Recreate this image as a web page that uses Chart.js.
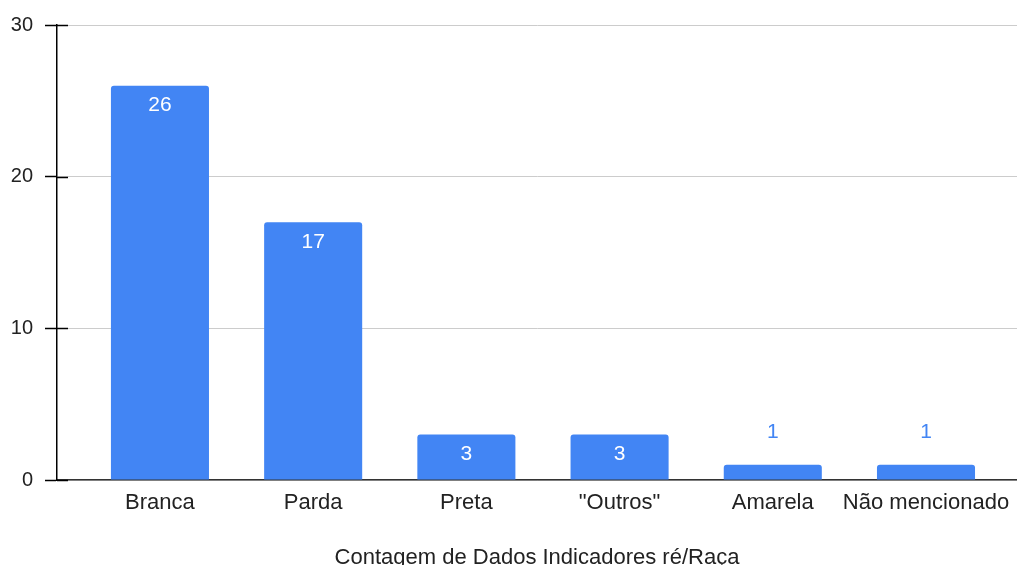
<!DOCTYPE html>
<html>
<head>
<meta charset="utf-8">
<script src="https://cdn.jsdelivr.net/npm/chart.js@4"></script>
<style>
  html, body { margin: 0; padding: 0; background: #fff; }
  #wrap { width: 1017px; height: 565px; }
</style>
</head>
<body>
<div id="wrap"><canvas id="myChart"></canvas></div>
<script>
var categories = ['Branca', 'Parda', 'Preta', '"Outros"', 'Amarela', 'Não mencionado'];
var counts = [26, 17, 3, 3, 1, 1];
var yTicks = [0, 10, 20, 30];
var axisTitle = 'Contagem de Dados Indicadores ré/Raça';

var blue = '#4285F4';
var font = '"Liberation Sans", Arial, sans-serif';

// value labels: white inside tall bars, blue above short ones
var barLabels = {
  id: 'barLabels',
  afterDatasetsDraw: function(chart) {
    var ctx = chart.ctx;
    var meta = chart.getDatasetMeta(0);
    ctx.save();
    ctx.font = '21px ' + font;
    ctx.textAlign = 'center';
    ctx.textBaseline = 'middle';
    meta.data.forEach(function(bar, i) {
      var h = bar.base - bar.y;
      if (h > 30) {
        ctx.fillStyle = '#ffffff';
        ctx.fillText(counts[i], bar.x, bar.y + 20);
      } else {
        ctx.fillStyle = blue;
        ctx.fillText(counts[i], bar.x, bar.y - 33);
      }
    });
    ctx.restore();
  }
};

// small stub of each y tick mark reaching inside the plot
var tickStubs = {
  id: 'tickStubs',
  afterDraw: function(chart) {
    var ctx = chart.ctx, y = chart.scales.y, left = chart.chartArea.left;
    ctx.save();
    ctx.strokeStyle = '#000';
    ctx.lineWidth = 1.5;
    yTicks.forEach(function(v) {
      var py = Math.round(y.getPixelForValue(v)) + 0.5;
      ctx.beginPath();
      ctx.moveTo(left, py);
      ctx.lineTo(left + 11, py);
      ctx.stroke();
    });
    ctx.restore();
  }
};

var ctx = document.getElementById('myChart').getContext('2d');
var myChart = new Chart(ctx, {
  type: 'bar',
  data: {
    datasets: [{
      label: axisTitle,
      data: counts.map(function(v, i) { return {x: i, y: v}; }),
      backgroundColor: blue,
      borderRadius: {topLeft: 3, topRight: 3},
      borderSkipped: 'start',
      categoryPercentage: 1,
      barPercentage: 0.64
    }]
  },
  options: {
    responsive: true,
    maintainAspectRatio: false,
    animation: false,
    layout: {padding: {top: 25, right: 0, left: 0, bottom: 0}},
    plugins: {legend: {display: false}, tooltip: {enabled: false}},
    scales: {
      x: {
        type: 'linear',
        offset: false,
        min: -0.672,
        max: 5.594,
        grid: {display: false, drawTicks: false, offset: false},
        border: {display: true, color: '#333', width: 1.5},
        afterBuildTicks: function(s) {
          s.ticks = categories.map(function(c, i) { return {value: i}; });
        },
        afterFit: function(s) {
          s.height = 85;
          s.paddingLeft = 0;
          s.paddingRight = 0;
        },
        ticks: {
          autoSkip: false,
          maxRotation: 0,
          padding: 10,
          color: '#222',
          font: {family: font, size: 22},
          callback: function(v) { return categories[v]; }
        },
        title: {
          display: true,
          text: axisTitle,
          color: '#222',
          font: {family: font, size: 22, lineHeight: 1},
          padding: {top: 0, bottom: -4}
        }
      },
      y: {
        min: 0,
        max: 30,
        afterBuildTicks: function(s) {
          s.ticks = yTicks.map(function(v) { return {value: v}; });
        },
        afterFit: function(s) { s.width = 57; },
        grid: {color: '#cccccc', lineWidth: 1, tickLength: 12, tickColor: '#000', tickWidth: 1.5},
        border: {display: true, color: '#000', width: 1.5},
        ticks: {
          padding: 12,
          color: '#222',
          font: {family: font, size: 20}
        }
      }
    }
  },
  plugins: [barLabels, tickStubs]
});
</script>
</body>
</html>
